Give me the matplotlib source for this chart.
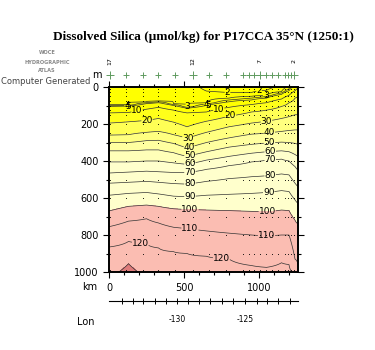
import numpy as np
import matplotlib.pyplot as plt
from matplotlib.colors import ListedColormap, BoundaryNorm
import matplotlib.transforms as mtransforms

# SECTION DATA

dist_km = [0, 130, 250, 330, 430, 520, 650, 800, 950, 1050, 1150, 1200, 1240, 1260]
surface_si = [2.6, 2.6, 2.3, 2.5, 2.6, 2.5, 1.7, 1.5, 1.6, 1.7, 2.2, 3.5, 6.0, 9.0]

nan = np.nan
# depth (m) of each isoline at each station
d2 = [nan, nan, nan, nan, nan, nan, 22, 30, 30, 18, nan, nan, nan, nan]
d3 = [95, 95, 80, 75, 90, 105, 85, 60, 50, 45, 25, nan, nan, nan]
d4 = [100, 99, 85, 80, 95, 110, 92, 70, 60, 52, 32, 10, nan, nan]
d5 = [105, 103, 90, 85, 100, 115, 100, 80, 70, 60, 40, 20, nan, nan]
d10 = [140, 138, 120, 110, 125, 140, 135, 110, 95, 85, 65, 45, 20, 5]
d20 = [195, 188, 180, 170, 190, 215, 185, 158, 135, 125, 105, 85, 60, 50]
d30 = [260, 258, 245, 240, 258, 278, 245, 215, 195, 185, 170, 160, 150, 150]
d40 = [300, 300, 290, 288, 305, 330, 300, 275, 255, 250, 240, 235, 232, 232]
d50 = [345, 345, 340, 340, 355, 375, 350, 325, 310, 303, 298, 300, 305, 310]
d60 = [405, 405, 400, 400, 410, 418, 395, 375, 358, 350, 345, 350, 365, 375]
d70 = [465, 460, 455, 458, 462, 462, 445, 425, 405, 395, 390, 400, 430, 450]
d80 = [520, 515, 510, 515, 522, 525, 510, 495, 485, 480, 470, 475, 520, 540]
d90 = [585, 575, 570, 578, 590, 593, 585, 580, 575, 570, 560, 565, 610, 630]
d100 = [670, 645, 638, 645, 658, 662, 665, 668, 672, 675, 665, 668, 720, 740]
d110 = [755, 725, 712, 735, 758, 765, 778, 790, 800, 805, 800, 800, 930, 960]
d120 = [865, 835, 848, 870, 890, 900, 915, 930, 965, 975, 950, 960, 1010, 1050]
d125 = [1030, 955, 1030, 1100, 1120, 1120, 1120, 1120, 1120, 1120, 1120, 1120, 1120, 1150]
d130 = [1200, 1200, 1200, 1250, 1250, 1250, 1250, 1250, 1250, 1250, 1250, 1250, 1250, 1300]

iso_levels = [2, 3, 4, 5, 10, 20, 30, 40, 50, 60, 70, 80, 90, 100, 110, 120, 125, 130]
iso_depths = [d2, d3, d4, d5, d10, d20, d30, d40, d50, d60, d70, d80, d90,
              d100, d110, d120, d125, d130]

# stations along the top (km) and their labels
station_km = [7, 113, 227, 327, 440, 560, 667, 780, 893, 933, 967, 1007,
              1047, 1087, 1127, 1173, 1193, 1213, 1233]
station_lbl = {7: '17', 560: '12', 1007: '7', 1233: '2'}
bottle_depth = [10, 25, 50, 75, 100, 125, 150, 200, 250, 300, 400, 500,
                600, 700, 800, 900, 990]

# longitude ticks along the section
lon_tick_km = [87, 160, 227, 307, 380, 453, 527, 600, 673, 753, 827, 907,
               987, 1053, 1127, 1207]
lon_major = {453: '-130', 907: '-125'}

# GRID THE FIELD

zg = np.linspace(0, 1000, 401)
Z = np.zeros((len(zg), len(dist_km)))
for j in range(len(dist_km)):
    dd = [0.0]
    vv = [surface_si[j]]
    for lev, dep in zip(iso_levels, iso_depths):
        if not np.isnan(dep[j]) and lev > surface_si[j]:
            dd.append(dep[j])
            vv.append(lev)
    order = np.argsort(dd)
    Z[:, j] = np.interp(zg, np.array(dd)[order], np.array(vv)[order])

# PLOT

fig = plt.figure(figsize=(3.75, 3.5), dpi=100)
ax = fig.add_axes([109 / 375, 78 / 350, 189 / 375, 185 / 350])

fill_levels = [0, 10, 20, 30, 40, 50, 60, 100, 125, 200]
fill_colors = ['#ffff00', '#ffff1a', '#ffff55', '#ffff80', '#ffffa0',
               '#ffffb8', '#ffffcc', '#fbbdb2', '#df7b7b']
cmap = ListedColormap(fill_colors)
norm = BoundaryNorm(fill_levels, cmap.N)
ax.contourf(dist_km, zg, Z, levels=fill_levels, cmap=cmap, norm=norm)

line_levels = [2, 3, 4, 5, 10, 20, 30, 40, 50, 60, 70, 80, 90, 100, 110, 120, 125]
cs = ax.contour(dist_km, zg, Z, levels=line_levels, colors='#333333',
                linewidths=0.5)
label_pos = [(790, 32), (1000, 20), (520, 106), (1045, 46),
             (120, 100), (128, 106), (650, 92), (660, 100),
             (190, 140), (735, 133), (255, 188), (810, 157),
             (525, 277), (1050, 185), (535, 330), (1070, 250),
             (540, 375), (1070, 303), (540, 418), (1075, 350),
             (540, 462), (1075, 395), (540, 525), (1075, 480),
             (540, 593), (1065, 570), (540, 662), (1055, 675),
             (540, 765), (1050, 805), (210, 843), (750, 925)]
lbls = ax.clabel(cs, cs.levels[:-1], fmt='%d', fontsize=6.5, colors='black',
                 inline=True, inline_spacing=0, manual=label_pos)
for t in lbls:
    t.set_rotation(0)

# bottle sample dots
for sk in station_km:
    ax.scatter([sk] * len(bottle_depth), bottle_depth, s=0.4, color='black',
               linewidths=0, zorder=3)

ax.set_xlim(0, 1260)
ax.set_ylim(1000, 0)
ax.set_xticks([0, 500, 1000])
ax.set_xticks(np.arange(0, 1261, 100), minor=True)
ax.set_yticks([0, 200, 400, 600, 800, 1000])
ax.set_yticks(np.arange(0, 1001, 100), minor=True)
ax.tick_params(which='both', direction='out', top=True, right=True,
               labelsize=7, width=0.8)
ax.tick_params(which='major', length=4)
ax.tick_params(which='minor', length=2.5)
ax.tick_params(axis='x', pad=4)
for s in ax.spines.values():
    s.set_linewidth(1.4)

# station markers above the section
trans = mtransforms.blended_transform_factory(ax.transData, ax.transAxes)
for sk in station_km:
    big = sk in station_lbl
    ax.plot(sk, 1.065, marker='+', color='#5f9a5f', markersize=6 if big else 4,
            mew=0.7, transform=trans, clip_on=False)
    if big:
        ax.text(sk, 1.14, station_lbl[sk], rotation=90, fontsize=4.5,
                ha='center', va='center', transform=trans)

# longitude axis
lon_ax = ax.secondary_xaxis(-0.155)
lon_ax.set_xticks(lon_tick_km)
lon_ax.set_xticklabels([lon_major.get(k, '') for k in lon_tick_km])
lon_ax.tick_params(direction='inout', length=5, width=0.7, labelsize=5.5,
                   pad=8)
lon_ax.spines['bottom'].set_linewidth(0.8)

fig.text(97 / 375, 1 - 75 / 350, 'm', fontsize=7, ha='center', va='center')
fig.text(90 / 375, 1 - 287 / 350, 'km', fontsize=7, ha='center', va='center')
fig.text(86 / 375, 1 - 322 / 350, 'Lon', fontsize=7, ha='center', va='center')

fig.text(0.542, 1 - 37 / 350,
         'Dissolved Silica (\u03bcmol/kg) for P17CCA 35\u00b0N (1250:1)',
         fontsize=9.5, weight='bold', family='Liberation Serif',
         ha='center', va='center')

for yy, tt in [(53, 'WOCE'), (62, 'HYDROGRAPHIC'), (71, 'ATLAS')]:
    fig.text(47 / 375, 1 - yy / 350, tt, fontsize=3.6, weight='bold',
             color='#888888', ha='center', va='center')
fig.text(46 / 375, 1 - 82 / 350, 'Computer Generated', fontsize=6,
         color='#444444', ha='center', va='center')

fig.savefig('out.png', dpi=100)
